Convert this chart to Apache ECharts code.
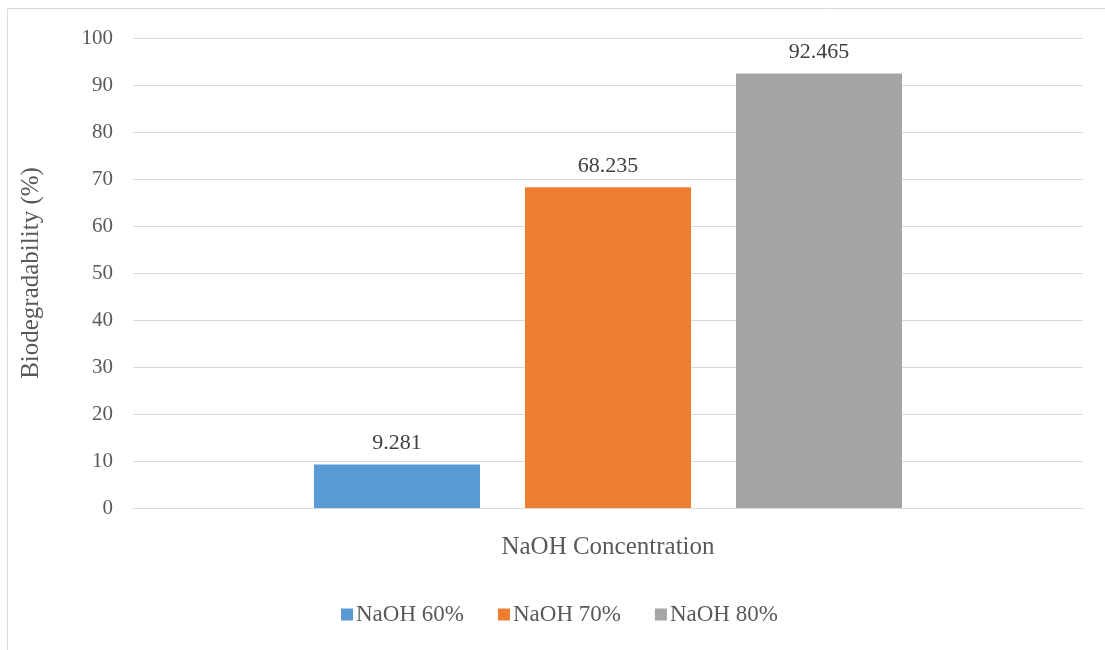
<!DOCTYPE html>
<html><head><meta charset="utf-8">
<script src="https://cdn.jsdelivr.net/npm/echarts@6/dist/echarts.min.js"></script>
<style>html,body{margin:0;padding:0;background:#fff}#c{width:1105px;height:650px}</style>
</head><body><div id="c"></div>
<script>
var categories = ['NaOH Concentration'];
var seriesNames = ['NaOH 60%', 'NaOH 70%', 'NaOH 80%'];
var seriesValues = [[9.281], [68.235], [92.465]];
var seriesColors = ['#5b9bd5', '#ed7d31', '#a5a5a5'];
var yTicks = [0, 10, 20, 30, 40, 50, 60, 70, 80, 90, 100];

var FONT = '"Liberation Serif", "DejaVu Serif", serif';
var chart = echarts.init(document.getElementById('c'), null, {renderer: 'canvas'});
chart.setOption({
  animation: false,
  backgroundColor: '#fff',
  textStyle: {fontFamily: FONT},
  graphic: [{
    type: 'rect', shape: {x: 7.5, y: 8.5, width: 1200, height: 1000},
    style: {fill: 'none', stroke: '#d9d9d9', lineWidth: 1}, silent: true
  }],
  grid: {left: 133, right: 22, top: 38, bottom: 142},
  legend: {
    left: 336, top: 598, itemWidth: 12, itemHeight: 12, itemGap: 34,
    icon: 'rect',
    textStyle: {fontFamily: FONT, fontSize: 23, color: '#595959', padding: [0, 0, 0, -2]},
    data: seriesNames
  },
  xAxis: {
    type: 'category', data: categories,
    axisLine: {lineStyle: {color: '#d9d9d9', width: 1}},
    axisTick: {show: false}, axisLabel: {show: false},
    name: 'NaOH Concentration', nameLocation: 'middle', nameGap: 27,
    nameTextStyle: {fontFamily: FONT, fontSize: 25, color: '#595959'}
  },
  yAxis: {
    type: 'value', min: yTicks[0], max: yTicks[yTicks.length - 1], interval: 10,
    axisLine: {show: false}, axisTick: {show: false},
    splitLine: {lineStyle: {color: '#d9d9d9', width: 1}},
    axisLabel: {fontFamily: FONT, fontSize: 21, color: '#595959', margin: 20},
    name: 'Biodegradability (%)', nameLocation: 'middle', nameGap: 89, nameRotate: 90,
    nameTextStyle: {fontFamily: FONT, fontSize: 25, color: '#595959'}
  },
  series: seriesNames.map(function (n, i) {
    return {
      name: n, type: 'bar', data: seriesValues[i],
      itemStyle: {color: seriesColors[i]},
      barCategoryGap: '38.1%', barGap: '27.1%',
      label: {show: true, position: 'top', distance: 10, fontFamily: FONT, fontSize: 22, color: '#404040',
        formatter: function (p) { return String(p.value); }}
    };
  })
});
</script></body></html>
